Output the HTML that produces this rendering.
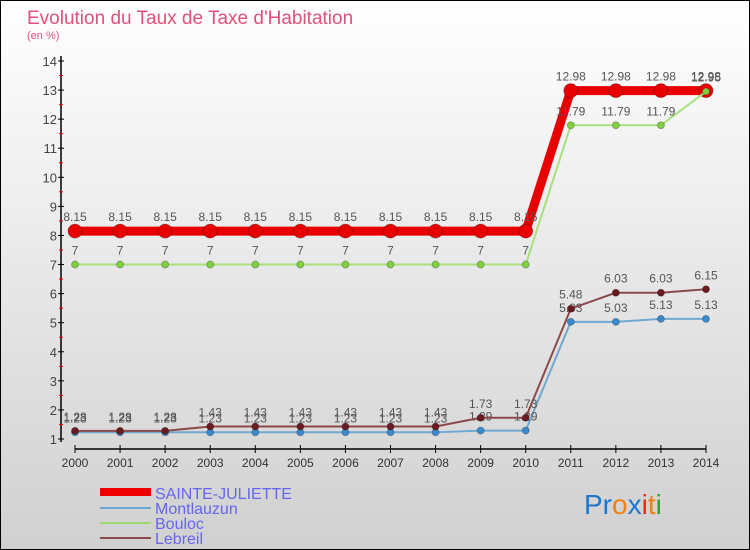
<!DOCTYPE html>
<html><head><meta charset="utf-8"><style>
body{margin:0;}
#c{width:750px;height:550px;position:relative;overflow:hidden;}
svg text{font-family:"Liberation Sans","DejaVu Sans",sans-serif;}
</style></head><body>
<div id="c">
<svg id="s" width="750" height="550" xmlns="http://www.w3.org/2000/svg">
<defs><linearGradient id="bg" x1="0" y1="0" x2="0" y2="1"><stop offset="0" stop-color="#ffffff"/><stop offset="1" stop-color="#d0d0d0"/></linearGradient></defs>
<rect x="0.5" y="0.5" width="749" height="549" fill="url(#bg)" stroke="#000"/>
<text x="27" y="24" font-size="19" fill="#e0507a">Evolution du Taux de Taxe d'Habitation</text>
<text x="27" y="39" font-size="11" fill="#e0507a">(en %)</text>
<g id="axes"></g><g id="series"></g>
<g>
<line x1="100" y1="492" x2="151" y2="492" stroke="#e00" stroke-width="8"/>
<text x="155" y="499" font-size="16" fill="#6666ee">SAINTE-JULIETTE</text>
<line x1="100" y1="508" x2="151" y2="508" stroke="#6fa8d0" stroke-width="2"/>
<text x="155" y="514" font-size="16" fill="#6666ee">Montlauzun</text>
<line x1="100" y1="523" x2="151" y2="523" stroke="#9ad870" stroke-width="2"/>
<text x="155" y="529" font-size="16" fill="#6666ee">Bouloc</text>
<line x1="100" y1="538" x2="151" y2="538" stroke="#8a4a4a" stroke-width="2"/>
<text x="155" y="544" font-size="16" fill="#6666ee">Lebreil</text>
</g>
<g font-size="28">
<text x="584" y="514"><tspan fill="#1a78d0">Pr</tspan><tspan fill="#f08010">o</tspan><tspan fill="#1a78d0">x</tspan><tspan fill="#e03010">i</tspan><tspan fill="#f08010">t</tspan><tspan fill="#30a030">i</tspan></text>
</g>
</svg></div>
<script>
const years=[2000,2001,2002,2003,2004,2005,2006,2007,2008,2009,2010,2011,2012,2013,2014];
const yTicks=[1,2,3,4,5,6,7,8,9,10,11,12,13,14];
const sainteJuliette=[8.15,8.15,8.15,8.15,8.15,8.15,8.15,8.15,8.15,8.15,8.15,12.98,12.98,12.98,12.98];
const montlauzun=[1.23,1.23,1.23,1.23,1.23,1.23,1.23,1.23,1.23,1.29,1.29,5.03,5.03,5.13,5.13];
const bouloc=[7,7,7,7,7,7,7,7,7,7,7,11.79,11.79,11.79,12.95];
const lebreil=[1.28,1.28,1.28,1.43,1.43,1.43,1.43,1.43,1.43,1.73,1.73,5.48,6.03,6.03,6.15];
const NS="http://www.w3.org/2000/svg";
const x=i=>75+i*(706-75)/(years.length-1);
const y=v=>439-(v-1)*(439-61)/13;
function mk(tag,attrs,parent){const e=document.createElementNS(NS,tag);for(const k in attrs)e.setAttribute(k,attrs[k]);parent.appendChild(e);return e;}
const ax=document.getElementById('axes'),sg=document.getElementById('series');
let l=mk('line',{x1:61,y1:56,x2:61,y2:442,stroke:'#000','stroke-width':1.5},ax);


yTicks.forEach(t=>{
  const tk=mk('line',{x1:58,y1:y(t),x2:64,y2:y(t),stroke:'#000'},ax);
  
  
  const tx=mk('text',{x:57,y:y(t)+5,'font-size':13,fill:'#444','text-anchor':'end'},ax);tx.textContent=t;
  
  
  if(t<14){const m=mk('line',{x1:59,y1:y(t+0.5),x2:63,y2:y(t+0.5),stroke:'#e00'},ax);
  
  }
});
l=mk('line',{x1:75,y1:449,x2:706,y2:449,stroke:'#000','stroke-width':1.5},ax);


years.forEach((yr,i)=>{
  const tk=mk('line',{x1:x(i),y1:445,x2:x(i),y2:453,stroke:'#000'},ax);
  
  
  const tx=mk('text',{x:x(i),y:467,'font-size':12,fill:'#333','text-anchor':'middle'},ax);tx.textContent=yr;
  
  
});
function series(vals,color,w,r,name,dot){
  const g=mk('g',{},sg);
  
  
  const p=mk('polyline',{points:vals.map((v,i)=>x(i)+','+y(v)).join(' '),fill:'none',stroke:color,'stroke-width':w,'stroke-linejoin':'round'},g);
  
  
  vals.forEach((v,i)=>{
    const c=mk('circle',{cx:x(i),cy:y(v),r:r,fill:dot,stroke:'rgba(0,0,0,0.25)'},g);
    
    
    const t=mk('text',{x:x(i),y:y(v)-10,'font-size':12,fill:'#555','text-anchor':'middle'},g);t.textContent=v;
    
    
  });
}
series(sainteJuliette,'#e80000',9,7,'sainte-juliette','#e80000');
series(bouloc,'#a8e080',2,3.5,'bouloc','#80d040');
series(montlauzun,'#6fa8d0',2,3.5,'montlauzun','#3a8ad0');
series(lebreil,'#8a4a4a',2,3.5,'lebreil','#6a1a20');
</script>
</body></html>
